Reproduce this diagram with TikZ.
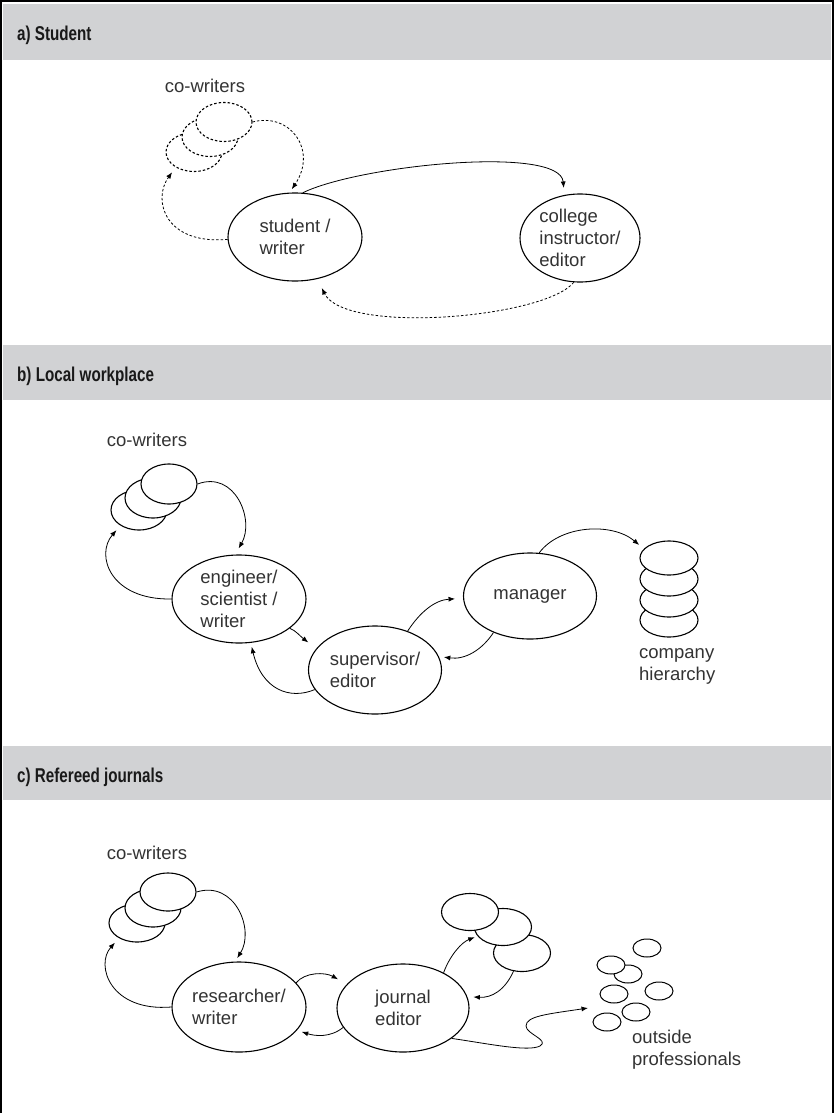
\documentclass[tikz,border=0pt]{standalone}
\usepackage{fontspec}
\setmainfont{Liberation Sans}
\usetikzlibrary{shapes.geometric,arrows.meta}
\definecolor{hdrgray}{RGB}{209,210,212}
\begin{document}
\begin{tikzpicture}[x=1pt,y=-1pt,
  every node/.style={font=\fontsize{18.5}{22}\selectfont, text=black!80},
  bub/.style={draw, ellipse, line width=1.1pt, inner sep=0pt, fill=white, align=left},
  cwell/.style={draw, ellipse, line width=1.1pt, fill=white, inner sep=0pt, minimum width=56pt, minimum height=39pt},
  tinyell/.style={draw, ellipse, line width=1pt, fill=white, inner sep=0pt, minimum width=28pt, minimum height=18pt},
  stackell/.style={draw, ellipse, line width=1.1pt, fill=white, inner sep=0pt, minimum width=58pt, minimum height=34pt},
  arr/.style={line width=0.8pt, -{Latex[length=6.5pt,width=5pt]}},
  dsh/.style={dash pattern=on 2.5pt off 2pt},
  hdrtext/.style={font=\bfseries\fontsize{20}{24}\selectfont, text=black!90, anchor=base west, inner sep=0pt},
  lbl/.style={inner sep=0pt, align=left}
]
\useasboundingbox (0,0) rectangle (834,1113);
% frame and header bands
\fill[hdrgray] (3,4) rectangle (831,60);
\fill[hdrgray] (3,345) rectangle (831,400);
\fill[hdrgray] (3,746) rectangle (831,800);
\draw[line width=2pt] (1,1113) -- (1,1) -- (833,1) -- (833,1113);
\node[hdrtext] (ha) at (17,41) {\scalebox{0.76}[1]{a) Student}};
\node[hdrtext] (hb) at (17,381) {\scalebox{0.76}[1]{b) Local workplace}};
\node[hdrtext] (hc) at (17,782) {\scalebox{0.76}[1]{c) Refereed journals}};

% ---------------- panel a
\node[lbl] (lca) at (205,86) {co-writers};
\node[cwell,dsh] (ca1) at (194,152) {};
\node[cwell,dsh] (ca2) at (210,137) {};
\node[cwell,dsh] (ca3) at (224,122) {};
\node[bub, minimum width=134pt, minimum height=88pt] (sw) at (295,237) {student /\\writer};
\node[bub, minimum width=120pt, minimum height=88pt] (ci) at (580,238) {college\\instructor/\\editor};
\draw[arr] (sw.80) .. controls (360,165) and (560,145) .. (ci.110) [shorten >=7pt];
\draw[arr,dsh] (ci.-98) .. controls (545,318) and (345,335) .. (sw.-62) [shorten >=10pt];
\draw[arr,dsh] (ca3.east) .. controls (290,112) and (318,150) .. (sw.97) [shorten >=4pt];
\draw[arr,dsh] (sw.182) .. controls (165,245) and (152,200) .. (ca1.-140) [shorten >=6pt];

% ---------------- panel b
\node[lbl] (lcb) at (147,440) {co-writers};
\node[cwell, minimum height=40pt] (cb1) at (139,510) {};
\node[cwell, minimum height=40pt] (cb2) at (153,498) {};
\node[cwell, minimum height=40pt] (cb3) at (169,484) {};
\node[bub, minimum width=134pt, minimum height=88pt] (ew) at (239,599) {engineer/\\scientist /\\writer};
\node[bub, minimum width=133pt, minimum height=88pt] (se) at (375,670) {supervisor/\\editor};
\node[bub, minimum width=133pt, minimum height=86pt] (mg) at (530,596) {manager};
\node[stackell] (h4) at (669,620) {};
\node[stackell] (h3) at (669,600) {};
\node[stackell] (h2) at (669,579) {};
\node[stackell] (h1) at (669,558) {};
\node[lbl, anchor=north west] (lch) at (639,648) {company\\hierarchy};
\draw[arr] (cb3.east) .. controls (235,470) and (255,520) .. (ew.95) [shorten >=7pt];
\draw[arr] (ew.180) .. controls (110,600) and (95,555) .. (cb1.-140) [shorten >=6pt];
\draw[arr] (ew.-30) .. controls (295,630) and (300,636) .. (se.160) [shorten >=10pt];
\draw[arr] (se.-162) .. controls (290,700) and (262,690) .. (ew.-75) [shorten >=4pt];
\draw[arr] (se.50) .. controls (420,612) and (435,600) .. (mg.182) [shorten >=8pt];
\draw[arr] (mg.-135) .. controls (482,650) and (465,660) .. (se.12) [shorten >=5pt];
\draw[arr] (mg.78) .. controls (560,525) and (612,522) .. (h1.160) [shorten >=6pt];

% ---------------- panel c
\node[lbl] (lcc) at (147,853) {co-writers};
\node[cwell, minimum height=38pt] (cc1) at (137,923) {};
\node[cwell, minimum height=38pt] (cc2) at (153,908) {};
\node[cwell, minimum height=38pt] (cc3) at (168,892) {};
\node[bub, minimum width=134pt, minimum height=90pt] (rw) at (239,1007) {researcher/\\writer};
\node[bub, minimum width=132pt, minimum height=88pt] (je) at (403,1008) {journal\\editor};
\node[cwell, minimum width=57pt, minimum height=37pt] (jc3) at (522,953) {};
\node[cwell, minimum width=57pt, minimum height=37pt] (jc2) at (503,927) {};
\node[cwell, minimum width=57pt, minimum height=37pt] (jc1) at (470,912) {};
\node[tinyell] (op1) at (647,948) {};
\node[tinyell] (op3) at (628,974) {};
\node[tinyell] (op2) at (611,965) {};
\node[tinyell] (op4) at (614,994) {};
\node[tinyell] (op5) at (659,991) {};
\node[tinyell] (op6) at (636,1012) {};
\node[tinyell] (op7) at (607,1022) {};
\node[lbl, anchor=north west] (lop) at (632,1030) {outside\\professionals};
\coordinate (optip) at (588,1008);
\draw[arr] (cc3.east) .. controls (235,880) and (255,930) .. (rw.95) [shorten >=4pt];
\draw[arr] (rw.180) .. controls (110,1012) and (95,965) .. (cc1.-140) [shorten >=6pt];
\draw[arr] (rw.23) .. controls (305,972) and (325,972) .. (je.157) [shorten >=10pt];
\draw[arr] (je.-162) .. controls (330,1038) and (315,1036) .. (rw.-22) [shorten >=5pt];
\draw[arr] (je.41) .. controls (450,955) and (462,942) .. (jc2.-160) [shorten >=3pt];
\draw[arr] (jc3.-115) .. controls (505,990) and (492,998) .. (je.10) [shorten >=6pt];
\draw[arr] (je.-32) .. controls (490,1044) and (528,1052) .. (540,1046)
  .. controls (550,1040) and (526,1034) .. (526,1026)
  .. controls (526,1016) and (548,1014) .. (optip);
\end{tikzpicture}
\end{document}
